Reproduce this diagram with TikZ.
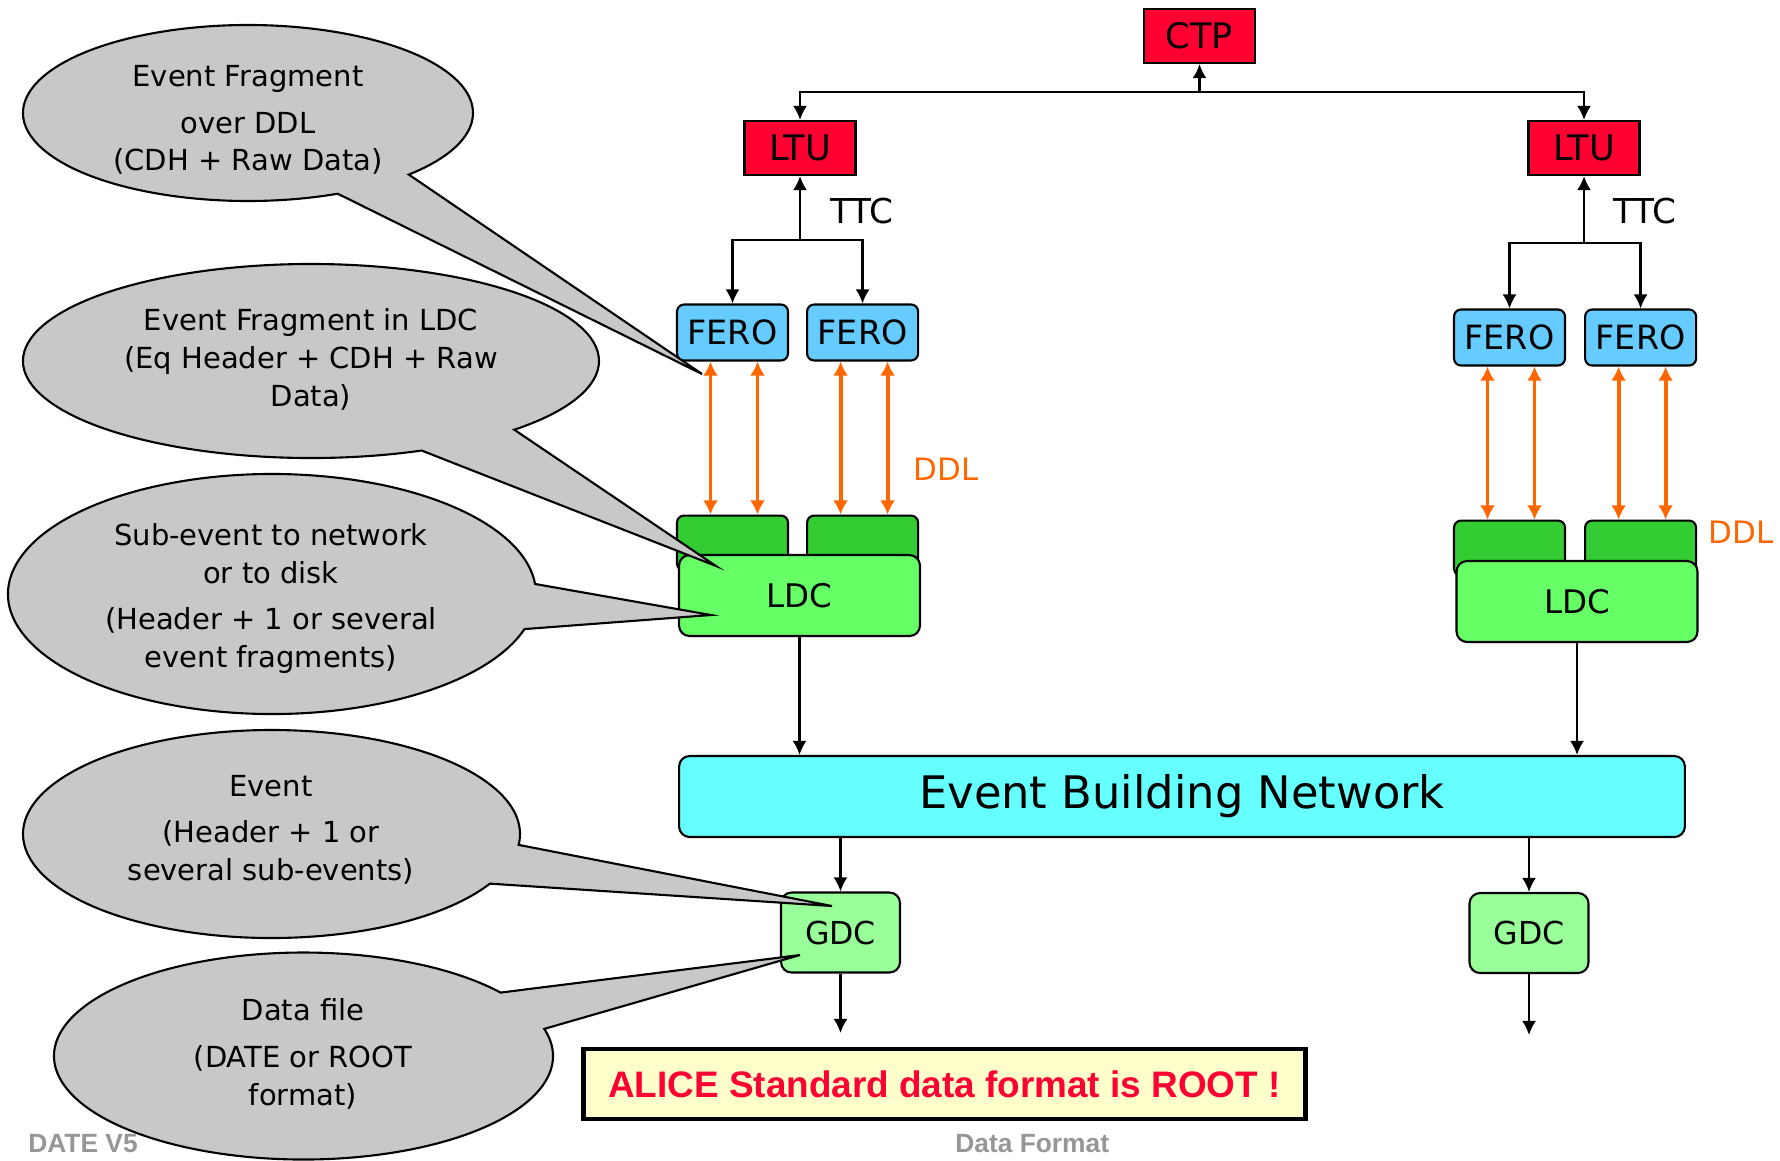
\documentclass[tikz,border=0pt]{standalone}
\usepackage{fontspec}
\setmainfont{DejaVu Sans}
\newfontfamily\arialfont{Liberation Sans}
\usetikzlibrary{arrows.meta, calc, positioning}

\definecolor{trigred}{RGB}{255,0,51}
\definecolor{ferobl}{RGB}{102,204,255}
\definecolor{cardgr}{RGB}{51,204,51}
\definecolor{ldcgr}{RGB}{102,255,102}
\definecolor{gdcgr}{RGB}{153,255,153}
\definecolor{netcy}{RGB}{102,255,255}
\definecolor{ddlor}{RGB}{255,102,0}
\definecolor{bubblegr}{RGB}{200,200,200}
\definecolor{notey}{RGB}{255,255,204}
\definecolor{footgr}{RGB}{150,150,150}

\tikzset{
  trig/.style={draw, line width=1.2pt, fill=trigred, minimum width=2.22cm, minimum height=1.08cm, inner sep=0pt, font=\fontsize{20}{24}\selectfont},
  fero/.style={draw, line width=1.2pt, rounded corners=4pt, fill=ferobl, minimum width=2.22cm, minimum height=1.12cm, inner sep=0pt, font=\fontsize{19}{23}\selectfont},
  card/.style={draw, line width=1.2pt, rounded corners=4pt, fill=cardgr, minimum width=2.22cm, minimum height=1.1cm},
  ldc/.style={draw, line width=1.2pt, rounded corners=6pt, fill=ldcgr, minimum width=4.82cm, minimum height=1.62cm, inner sep=0pt, font=\fontsize{18.5}{22}\selectfont},
  gdc/.style={draw, line width=1.2pt, rounded corners=6pt, fill=gdcgr, minimum width=2.38cm, minimum height=1.6cm, inner sep=0pt, font=\fontsize{18}{22}\selectfont},
  net/.style={draw, line width=1.2pt, rounded corners=6pt, fill=netcy, minimum width=20.12cm, minimum height=1.62cm, inner sep=0pt, font=\fontsize{25.5}{30}\selectfont},
  note/.style={draw, line width=2.8pt, fill=notey, minimum width=14.46cm, minimum height=1.4cm, inner sep=0pt, text=trigred, font=\arialfont\bfseries\fontsize{21}{25}\selectfont},
  lnk/.style={line width=1.3pt, -{Latex[length=8pt,width=8pt]}},
  ddl/.style={ddlor, line width=2.2pt, {Latex[length=8pt,width=8.5pt]}-{Latex[length=8pt,width=8.5pt]}},
  lbl/.style={font=\fontsize{19.5}{23}\selectfont},
  ddllbl/.style={text=ddlor, font=\fontsize{17.6}{21}\selectfont},
  bubble/.style={draw, line width=1.2pt, fill=bubblegr},
  btext/.style={align=center, font=\fontsize{16.5}{21.5}\selectfont},
  foot/.style={text=footgr, inner sep=0pt, font=\arialfont\bfseries\fontsize{15}{18}\selectfont}
}

\begin{document}
\begin{tikzpicture}[x=0.02cm, y=-0.02cm]
\useasboundingbox (0,0) rectangle (1780,1160);

\node[trig] (ctp) at (1199.5,36) {CTP};
\node[trig] (ltuL) at (800,148) {LTU};
\node[trig] (ltuR) at (1584,148) {LTU};
\coordinate (ctpJ) at (1199.5,92);
\draw[lnk] (ctpJ) -- (ctp);
\draw[lnk] (ctpJ) -| (ltuL);
\draw[lnk] (ctpJ) -| (ltuR);

\node[fero] (feroLa) at (732.5,332.5) {FERO};
\node[fero, right=0.34cm of feroLa] (feroLb) {FERO};
\node[fero] (feroRa) at (1509.5,337.5) {FERO};
\node[fero, right=0.36cm of feroRa] (feroRb) {FERO};

\coordinate (ttcJL) at (800,240);
\coordinate (ttcJR) at (1584,243);
\draw[lnk] (ttcJL) -- (ltuL);
\draw[lnk] (ttcJL) -| (feroLa);
\draw[lnk] (ttcJL) -| (feroLb);
\draw[lnk] (ttcJR) -- (ltuR);
\draw[lnk] (ttcJR) -| (feroRa);
\draw[lnk] (ttcJR) -| (feroRb);
\node[lbl] (ttcL) at (862,211) {TTC};
\node[lbl] (ttcR) at (1645,211) {TTC};

\node[card, below=3.06cm of feroLa] (cardLa) {};
\node[card, below=3.06cm of feroLb] (cardLb) {};
\node[card, below=3.06cm of feroRa] (cardRa) {};
\node[card, below=3.06cm of feroRb] (cardRb) {};
\foreach \f/\c in {feroLa/cardLa, feroLb/cardLb, feroRa/cardRa, feroRb/cardRb}
  \foreach \dx in {-22,25}
    \draw[ddl] ($(\f.south)+(\dx,0)$) -- ($(\c.north)+(\dx,0)$);
\node[ddllbl] (ddlL) at (946,469) {DDL};
\node[ddllbl] (ddlR) at (1741,532) {DDL};

\node[ldc] (ldcL) at (799.5,595.5) {LDC};
\node[ldc] (ldcR) at (1577,601.5) {LDC};
\node[net] (ebn) at (1182,796.5) {Event Building Network};
\draw[lnk] (ldcL) -- (ldcL |- ebn.north);
\draw[lnk] (ldcR) -- (ldcR |- ebn.north);

\node[gdc] (gdcL) at (840.5,932.5) {GDC};
\node[gdc] (gdcR) at (1529,933) {GDC};
\draw[lnk] (gdcL |- ebn.south) -- (gdcL);
\draw[lnk] (gdcR |- ebn.south) -- (gdcR);
\coordinate (outL) at (840.5,1033);
\coordinate (outR) at (1529,1035);
\draw[lnk] (gdcL) -- (outL);
\draw[lnk] (gdcR) -- (outR);

\node[note] (alice) at (944.5,1084) {ALICE Standard data format is ROOT !};

\coordinate (tipA) at (702,374);
\coordinate (tipB) at (716,566);
\coordinate (tipC) at (711,615);
\coordinate (tipD) at (832,906);
\coordinate (tipE) at (800,955);
\draw[bubble] (248,113) ++(66.5:225 and 88) arc[start angle=66.5, end angle=404.4, x radius=225, y radius=88] -- (tipA) -- cycle;
\draw[bubble] (311,361) ++(67.4:288 and 97) arc[start angle=67.4, end angle=405.1, x radius=288, y radius=97] -- (tipB) -- cycle;
\draw[bubble] (272,594) ++(17:264 and 120) arc[start angle=17, end angle=355.2, x radius=264, y radius=120] -- (tipC) -- cycle;
\draw[bubble] (271.5,834) ++(28.5:248.5 and 104) arc[start angle=28.5, end angle=366, x radius=248.5, y radius=104] -- (tipD) -- cycle;
\draw[bubble] (303.5,1056) ++(-15.2:249.5 and 103.5) arc[start angle=-15.2, end angle=322.2, x radius=249.5, y radius=103.5] -- (tipE) -- cycle;

\node[btext] (bubA) at (248,120) {Event Fragment\\[0.18cm]over DDL\\(CDH + Raw Data)};
\node[btext] (bubB) at (311,359.5) {Event Fragment in LDC\\(Eq Header + CDH + Raw\\Data)};
\node[btext] (bubC) at (271,598.5) {Sub-event to network\\or to disk\\[0.16cm](Header + 1 or several\\event fragments)};
\node[btext] (bubD) at (271,830) {Event\\[0.16cm](Header + 1 or\\several sub-events)};
\node[btext] (bubE) at (303,1054) {Data file\\[0.18cm](DATE or ROOT\\format)};

\node[foot, anchor=base west] (footL) at (28,1152) {DATE V5};
\node[foot, anchor=base west] (footM) at (955,1152) {Data Format};
\end{tikzpicture}
\end{document}
